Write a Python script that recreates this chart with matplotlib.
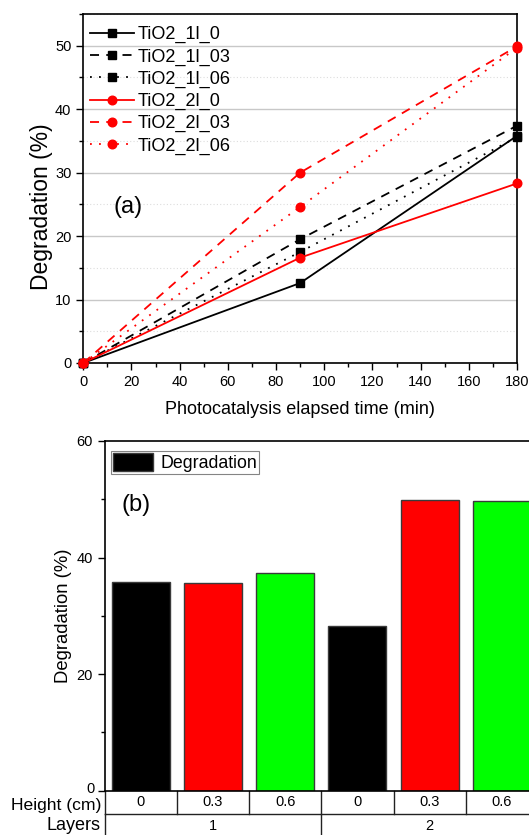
import matplotlib
matplotlib.use("Agg")
import matplotlib.pyplot as plt
from matplotlib.ticker import MultipleLocator, FuncFormatter
import matplotlib.transforms as mtransforms

plt.rcParams['font.family'] = ['Liberation Sans', 'DejaVu Sans']

# ---- (a) degradation vs. photocatalysis time ----
time_min = [0, 90, 180]
tio2_1l_0 = [0, 12.6, 35.8]
tio2_1l_03 = [0, 19.5, 37.4]
tio2_1l_06 = [0, 17.5, 35.6]
tio2_2l_0 = [0, 16.6, 28.3]
tio2_2l_03 = [0, 30.0, 49.9]
tio2_2l_06 = [0, 24.6, 49.7]

series_labels = ["TiO2_1l_0", "TiO2_1l_03", "TiO2_1l_06",
                 "TiO2_2l_0", "TiO2_2l_03", "TiO2_2l_06"]

# ---- (b) final degradation per configuration ----
heights = ["0", "0.3", "0.6", "0", "0.3", "0.6"]
layers = ["1", "2"]
final_degradation = [35.8, 35.6, 37.4, 28.3, 49.9, 49.7]
bar_colors = ["#000000", "#ff0000", "#00ff00", "#000000", "#ff0000", "#00ff00"]

W, H = 529, 835
fig = plt.figure(figsize=(W / 100, H / 100), dpi=100)

ax1 = fig.add_axes([83.3 / W, 1 - 363 / H, (517 - 83.3) / W, (363 - 14) / H])

dashed = (0, (5, 4))
dotted = (0, (1, 4))
styles = [
    (tio2_1l_0, "black", "-", "s"),
    (tio2_1l_03, "black", dashed, "s"),
    (tio2_1l_06, "black", dotted, "s"),
    (tio2_2l_0, "red", "-", "o"),
    (tio2_2l_03, "red", dashed, "o"),
    (tio2_2l_06, "red", dotted, "o"),
]
for (vals, col, ls, mk), lab in zip(styles, series_labels):
    ax1.plot(time_min, vals, color=col, linestyle=ls, marker=mk,
             markersize=5.6 if mk == "s" else 6.2, linewidth=1.3,
             label=lab, clip_on=False, zorder=3)

ax1.set_xlim(0, 180)
ax1.set_ylim(0, 55)
ax1.xaxis.set_major_locator(MultipleLocator(20))
ax1.xaxis.set_minor_locator(MultipleLocator(10))
ax1.yaxis.set_major_locator(MultipleLocator(10))
ax1.yaxis.set_minor_locator(MultipleLocator(5))
ax1.grid(axis="y", which="major", color="#c8c8c8", linewidth=1.0, linestyle="-")
ax1.grid(axis="y", which="minor", color="#dddddd", linewidth=0.8, linestyle=(0, (1, 2)))
ax1.set_axisbelow(True)
ax1.tick_params(which="both", direction="out", labelsize=10.5, width=1.0)
ax1.tick_params(which="major", length=5)
ax1.tick_params(which="minor", length=3)
for sp in ax1.spines.values():
    sp.set_linewidth(1.2)
ax1.set_xlabel("Photocatalysis elapsed time (min)", fontsize=13, labelpad=9)
ax1.set_ylabel("Degradation (%)", fontsize=16.5)
ax1.yaxis.set_label_coords(-0.07, 0.448)
ax1.text(0.07, 0.43, "(a)", transform=ax1.transAxes, fontsize=17)
leg1 = ax1.legend(loc="upper left", frameon=False, fontsize=13,
                  handlelength=2.4, handletextpad=0.22, labelspacing=0.28,
                  borderaxespad=0.27, bbox_to_anchor=(-0.0115, 1.0))

# ---- (b) bar chart with category table ----
ax2 = fig.add_axes([104.5 / W, 1 - 790.7 / H, (538 - 104.5) / W, (790.7 - 441) / H])
xpos = list(range(len(final_degradation)))
ax2.bar(xpos, final_degradation, width=0.8, color=bar_colors,
        edgecolor="#3a3a3a", linewidth=1.0, label="Degradation")
ax2.set_xlim(-0.5, 5.5)
ax2.set_ylim(0, 60)
ax2.yaxis.set_major_locator(MultipleLocator(20))
ax2.yaxis.set_minor_locator(MultipleLocator(10))
# the zero label is placed by hand a little higher, clear of the table caption
ax2.yaxis.set_major_formatter(FuncFormatter(lambda v, p: "" if v == 0 else f"{v:g}"))
ax2.set_xticks([])
ax2.tick_params(which="both", direction="out", labelsize=10.5, width=1.0)
ax2.tick_params(which="major", length=5)
ax2.tick_params(which="minor", length=3)
for sp in ax2.spines.values():
    sp.set_linewidth(1.2)
ax2.annotate("0", xy=(0, 0), xycoords=("axes fraction", "data"),
             xytext=(-7.1, 2.2), textcoords="offset points",
             ha="right", va="center_baseline", fontsize=10.5)
ax2.set_ylabel("Degradation (%)", fontsize=13.3)
ax2.yaxis.set_label_coords(-0.075, 0.5)
ax2.text(0.04, 0.80, "(b)", transform=ax2.transAxes, fontsize=17)
leg2 = ax2.legend(loc="upper left", fontsize=12.8, handlelength=2.25,
                  handleheight=1.12, handletextpad=0.4, borderpad=0.13,
                  borderaxespad=0.0, fancybox=False, edgecolor="#666666",
                  bbox_to_anchor=(6.2 / 433.5, 1 - 10 / 349.7))
leg2.get_frame().set_linewidth(0.8)

# category table under the bars
trans = mtransforms.blended_transform_factory(ax2.transData, ax2.transAxes)
ax_h = 790.7 - 441
row1_bot = -(814.3 - 790.7) / ax_h
row2_bot = -0.2
row1_mid = -(805.5 - 790.7) / ax_h
row2_mid = -(826 - 790.7) / ax_h
line_kw = dict(color="#222222", linewidth=1.0, clip_on=False)
ax2.plot([-0.5, 5.5], [row1_bot, row1_bot], transform=trans, **line_kw)
for i in range(len(heights) + 1):
    xb = i - 0.5
    ax2.plot([xb, xb], [0, row1_bot], transform=trans, **line_kw)
for i, h in enumerate(heights):
    ax2.text(i, -(802.5 - 790.7) / ax_h, h, transform=trans,
             ha="center", va="center", fontsize=10.5)
for j, lay in enumerate(layers):
    xb = j * 3 - 0.5
    ax2.plot([xb, xb], [row1_bot, row2_bot], transform=trans, **line_kw)
    ax2.text(j * 3 + 1, row2_mid, lay, transform=trans,
             ha="center", va="center", fontsize=10.5)
ax2.text(-0.006, row1_mid, "Height (cm)", transform=ax2.transAxes,
         ha="right", va="center", fontsize=12.6)
ax2.text(-0.01, row2_mid, "Layers", transform=ax2.transAxes,
         ha="right", va="center", fontsize=13)

fig.savefig("out.png", dpi=100)
